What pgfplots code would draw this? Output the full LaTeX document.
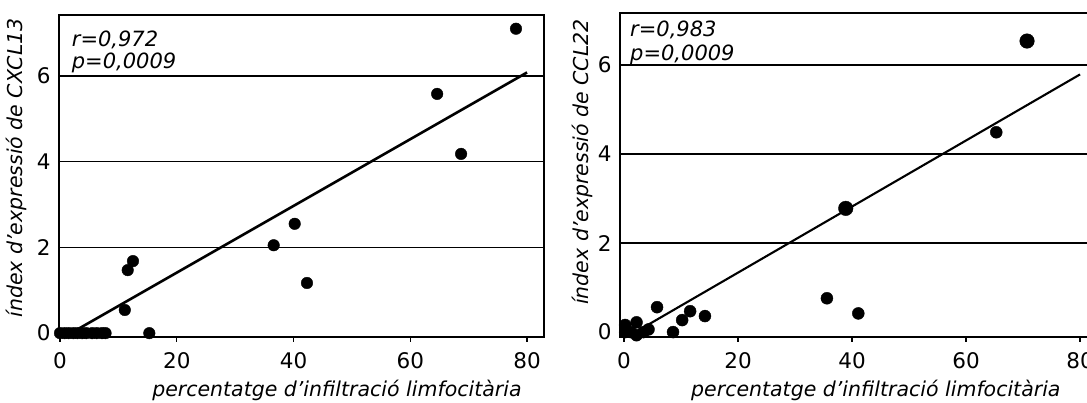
\documentclass[border=0pt]{standalone}
\usepackage{fontspec}
\setmainfont{DejaVu Sans}
\usepackage{pgfplots}
\pgfplotsset{compat=1.18}

\pgfplotsset{panel/.style={
  scale only axis, anchor=south west,
  axis line style={line width=1.6pt, black},
  xtick={0,20,40,60,80}, ytick={0,2,4,6},
  xtick pos=left, ytick pos=left,
  tick align=outside, major tick length=5pt,
  xtick style={line width=1.2pt, black},
  ytick style={draw=none},
  extra y ticks={2,4,6}, extra y tick labels={},
  extra y tick style={grid=major, tick style={draw=none},
    major grid style={line width=1.6pt, black}},
  tick label style={font=\fontsize{21.5}{25}\selectfont},
  xticklabel style={yshift=-7pt},
  /pgf/number format/assume math mode=true,
  label style={font=\fontsize{20.5}{24}\selectfont\itshape},
  xlabel={percentatge d’infiltració limfocitària},
}}

\begin{document}
\begin{tikzpicture}
\useasboundingbox (0,0) rectangle (1087pt,403pt);

% panel esquerre: CXCL13
\begin{axis}[panel, at={(59pt,66pt)},
  width=485pt, height=322pt,
  xmin=-0.17, xmax=82.9, ymin=-0.09, ymax=7.42,
  ylabel={índex d’expressió de CXCL13},
  ylabel style={at={(axis description cs:-0.087,0.525)}, anchor=center},
  xlabel style={at={(axis description cs:0.573,-0.186)}, anchor=base},
  ]
  \addplot[only marks, mark=*, mark size=5.8pt, black] coordinates {
    (0,0) (0.8,0) (1.5,0) (2.3,0) (3,0) (3.8,0) (4.5,0) (5.5,0) (6.3,0) (7.2,0) (7.8,0)
    (15.3,0) (11.1,0.54) (11.6,1.47) (12.5,1.68)
    (36.6,2.05) (40.2,2.55) (42.3,1.17)
    (64.6,5.58) (68.7,4.18) (78.1,7.10)};
  \addplot[black, line width=2.6pt] coordinates {(2,0.01) (80,6.08)};
  \node[anchor=west, inner sep=0, font=\fontsize{21}{24}\selectfont\itshape] at (axis cs:2.0,6.85) {r=0,972};
  \node[anchor=west, inner sep=0, font=\fontsize{21}{24}\selectfont\itshape] at (axis cs:2.0,6.31) {p=0,0009};
\end{axis}

% panel dret: CCL22
\begin{axis}[panel, at={(620pt,66pt)},
  width=480pt, height=324pt,
  xmin=-0.7, xmax=83.5, ymin=-0.11, ymax=7.17,
  ylabel={índex d’expressió de CCL22},
  ylabel style={at={(axis description cs:-0.079,0.54)}, anchor=center},
  xlabel style={at={(axis description cs:0.533,-0.185)}, anchor=base},
  ]
  \addplot[only marks, mark=*, mark size=6pt, black] coordinates {
    (0.2,0.16) (0.2,0) (1.2,0) (2.2,0.22) (2.2,-0.07) (3.4,0) (4.3,0.06)
    (5.8,0.56) (8.6,0) (10.2,0.27) (11.6,0.47) (14.2,0.36)
    (35.6,0.76) (41.1,0.42) (65.3,4.49)};
  \addplot[only marks, mark=*, mark size=7.3pt, black] coordinates {
    (38.9,2.78) (70.7,6.54)};
  \addplot[black, line width=2.1pt] coordinates {(2,0.0) (80,5.79)};
  \node[anchor=west, inner sep=0, font=\fontsize{21}{24}\selectfont\itshape] at (axis cs:1.05,6.79) {r=0,983};
  \node[anchor=west, inner sep=0, font=\fontsize{21}{24}\selectfont\itshape] at (axis cs:1.05,6.22) {p=0,0009};
\end{axis}
\end{tikzpicture}
\end{document}
